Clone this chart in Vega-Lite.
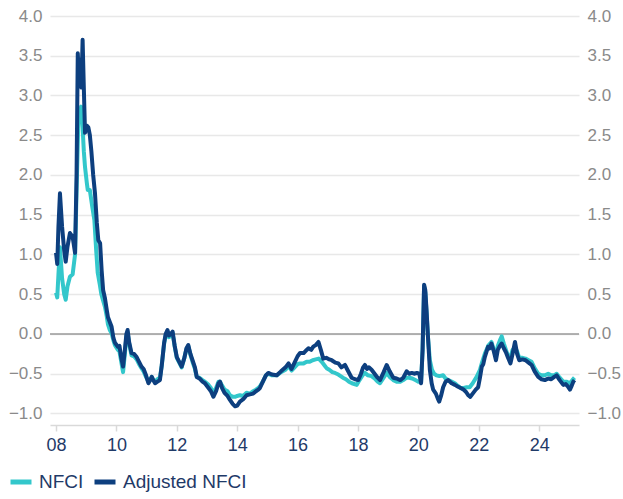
{
  "$schema": "https://vega.github.io/schema/vega-lite/v6.json",
  "autosize": "none",
  "width": 529,
  "height": 409,
  "padding": {"left": 50, "top": 16, "right": 44, "bottom": 74},
  "background": "white",
  "config": {
    "view": {"stroke": null},
    "font": "Liberation Sans"
  },
  "datasets": {
    "nfci": [
      {"t":2008.0,"v":0.52},{"t":2008.04,"v":0.46},{"t":2008.08,"v":0.75},{"t":2008.13,"v":1.09},{"t":2008.2,"v":0.7},{"t":2008.27,"v":0.5},{"t":2008.32,"v":0.43},{"t":2008.38,"v":0.6},{"t":2008.46,"v":0.72},{"t":2008.55,"v":0.75},{"t":2008.63,"v":1.0},{"t":2008.68,"v":1.8},{"t":2008.74,"v":2.69},{"t":2008.79,"v":2.75},{"t":2008.83,"v":2.86},{"t":2008.88,"v":2.6},{"t":2008.92,"v":2.3},{"t":2008.96,"v":2.1},{"t":2009.02,"v":1.9},{"t":2009.05,"v":1.81},{"t":2009.12,"v":1.81},{"t":2009.2,"v":1.6},{"t":2009.27,"v":1.43},{"t":2009.33,"v":1.05},{"t":2009.38,"v":0.77},{"t":2009.45,"v":0.62},{"t":2009.5,"v":0.5},{"t":2009.56,"v":0.42},{"t":2009.62,"v":0.34},{"t":2009.68,"v":0.22},{"t":2009.72,"v":0.12},{"t":2009.78,"v":0.05},{"t":2009.84,"v":0.01},{"t":2009.9,"v":-0.08},{"t":2009.95,"v":-0.14},{"t":2010.05,"v":-0.2},{"t":2010.1,"v":-0.22},{"t":2010.16,"v":-0.35},{"t":2010.22,"v":-0.48},{"t":2010.28,"v":-0.25},{"t":2010.33,"v":-0.03},{"t":2010.37,"v":0.02},{"t":2010.42,"v":-0.12},{"t":2010.5,"v":-0.27},{"t":2010.58,"v":-0.28},{"t":2010.67,"v":-0.32},{"t":2010.75,"v":-0.38},{"t":2010.83,"v":-0.43},{"t":2010.9,"v":-0.47},{"t":2010.98,"v":-0.54},{"t":2011.06,"v":-0.6},{"t":2011.12,"v":-0.57},{"t":2011.17,"v":-0.54},{"t":2011.22,"v":-0.58},{"t":2011.28,"v":-0.6},{"t":2011.36,"v":-0.57},{"t":2011.44,"v":-0.55},{"t":2011.5,"v":-0.4},{"t":2011.58,"v":-0.12},{"t":2011.63,"v":-0.02},{"t":2011.69,"v":0.03},{"t":2011.74,"v":-0.04},{"t":2011.8,"v":-0.02},{"t":2011.86,"v":0.01},{"t":2011.93,"v":-0.16},{"t":2012.0,"v":-0.3},{"t":2012.08,"v":-0.36},{"t":2012.16,"v":-0.42},{"t":2012.25,"v":-0.3},{"t":2012.32,"v":-0.19},{"t":2012.38,"v":-0.15},{"t":2012.45,"v":-0.26},{"t":2012.52,"v":-0.35},{"t":2012.6,"v":-0.44},{"t":2012.66,"v":-0.54},{"t":2012.75,"v":-0.55},{"t":2012.85,"v":-0.58},{"t":2012.93,"v":-0.6},{"t":2013.05,"v":-0.64},{"t":2013.13,"v":-0.68},{"t":2013.21,"v":-0.74},{"t":2013.3,"v":-0.68},{"t":2013.38,"v":-0.6},{"t":2013.43,"v":-0.6},{"t":2013.5,"v":-0.65},{"t":2013.58,"v":-0.7},{"t":2013.68,"v":-0.72},{"t":2013.76,"v":-0.77},{"t":2013.85,"v":-0.79},{"t":2013.93,"v":-0.79},{"t":2014.0,"v":-0.78},{"t":2014.09,"v":-0.77},{"t":2014.2,"v":-0.78},{"t":2014.31,"v":-0.74},{"t":2014.42,"v":-0.75},{"t":2014.53,"v":-0.72},{"t":2014.62,"v":-0.7},{"t":2014.7,"v":-0.68},{"t":2014.75,"v":-0.66},{"t":2014.85,"v":-0.6},{"t":2014.95,"v":-0.52},{"t":2015.03,"v":-0.5},{"t":2015.15,"v":-0.52},{"t":2015.31,"v":-0.52},{"t":2015.45,"v":-0.48},{"t":2015.6,"v":-0.45},{"t":2015.7,"v":-0.4},{"t":2015.8,"v":-0.46},{"t":2015.9,"v":-0.42},{"t":2016.0,"v":-0.38},{"t":2016.08,"v":-0.37},{"t":2016.2,"v":-0.37},{"t":2016.3,"v":-0.35},{"t":2016.4,"v":-0.35},{"t":2016.5,"v":-0.33},{"t":2016.6,"v":-0.32},{"t":2016.7,"v":-0.31},{"t":2016.8,"v":-0.35},{"t":2016.9,"v":-0.4},{"t":2016.96,"v":-0.43},{"t":2017.05,"v":-0.45},{"t":2017.15,"v":-0.48},{"t":2017.24,"v":-0.49},{"t":2017.35,"v":-0.51},{"t":2017.5,"v":-0.55},{"t":2017.6,"v":-0.57},{"t":2017.7,"v":-0.6},{"t":2017.8,"v":-0.62},{"t":2017.96,"v":-0.64},{"t":2018.05,"v":-0.58},{"t":2018.15,"v":-0.52},{"t":2018.23,"v":-0.49},{"t":2018.33,"v":-0.52},{"t":2018.45,"v":-0.53},{"t":2018.55,"v":-0.56},{"t":2018.65,"v":-0.6},{"t":2018.73,"v":-0.62},{"t":2018.85,"v":-0.55},{"t":2018.95,"v":-0.49},{"t":2019.05,"v":-0.54},{"t":2019.17,"v":-0.58},{"t":2019.28,"v":-0.6},{"t":2019.4,"v":-0.6},{"t":2019.5,"v":-0.58},{"t":2019.61,"v":-0.55},{"t":2019.7,"v":-0.55},{"t":2019.8,"v":-0.56},{"t":2019.9,"v":-0.58},{"t":2020.0,"v":-0.6},{"t":2020.09,"v":-0.6},{"t":2020.14,"v":-0.2},{"t":2020.19,"v":0.6},{"t":2020.23,"v":0.52},{"t":2020.27,"v":0.28},{"t":2020.32,"v":-0.05},{"t":2020.38,"v":-0.33},{"t":2020.45,"v":-0.45},{"t":2020.52,"v":-0.5},{"t":2020.6,"v":-0.52},{"t":2020.7,"v":-0.53},{"t":2020.82,"v":-0.52},{"t":2020.9,"v":-0.56},{"t":2020.99,"v":-0.58},{"t":2021.1,"v":-0.6},{"t":2021.21,"v":-0.62},{"t":2021.3,"v":-0.65},{"t":2021.4,"v":-0.68},{"t":2021.5,"v":-0.68},{"t":2021.6,"v":-0.67},{"t":2021.7,"v":-0.67},{"t":2021.8,"v":-0.62},{"t":2021.93,"v":-0.54},{"t":2022.04,"v":-0.45},{"t":2022.1,"v":-0.37},{"t":2022.2,"v":-0.25},{"t":2022.31,"v":-0.15},{"t":2022.42,"v":-0.1},{"t":2022.5,"v":-0.2},{"t":2022.57,"v":-0.28},{"t":2022.63,"v":-0.15},{"t":2022.7,"v":-0.08},{"t":2022.76,"v":-0.03},{"t":2022.83,"v":-0.12},{"t":2022.9,"v":-0.2},{"t":2022.97,"v":-0.28},{"t":2023.05,"v":-0.3},{"t":2023.12,"v":-0.2},{"t":2023.2,"v":-0.17},{"t":2023.27,"v":-0.22},{"t":2023.34,"v":-0.3},{"t":2023.45,"v":-0.3},{"t":2023.55,"v":-0.31},{"t":2023.65,"v":-0.33},{"t":2023.75,"v":-0.35},{"t":2023.85,"v":-0.43},{"t":2023.97,"v":-0.5},{"t":2024.08,"v":-0.52},{"t":2024.19,"v":-0.52},{"t":2024.3,"v":-0.5},{"t":2024.4,"v":-0.52},{"t":2024.5,"v":-0.52},{"t":2024.58,"v":-0.5},{"t":2024.68,"v":-0.55},{"t":2024.8,"v":-0.6},{"t":2024.9,"v":-0.6},{"t":2025.02,"v":-0.62},{"t":2025.1,"v":-0.58},{"t":2025.17,"v":-0.55}
    ],
    "adj": [
      {"t":2008.0,"v":1.02},{"t":2008.04,"v":0.88},{"t":2008.08,"v":1.35},{"t":2008.13,"v":1.77},{"t":2008.2,"v":1.35},{"t":2008.27,"v":1.05},{"t":2008.32,"v":0.91},{"t":2008.38,"v":1.1},{"t":2008.46,"v":1.27},{"t":2008.55,"v":1.22},{"t":2008.63,"v":1.02},{"t":2008.68,"v":2.0},{"t":2008.72,"v":3.53},{"t":2008.76,"v":3.2},{"t":2008.79,"v":3.45},{"t":2008.84,"v":3.1},{"t":2008.88,"v":3.7},{"t":2008.92,"v":3.1},{"t":2008.96,"v":2.53},{"t":2009.02,"v":2.62},{"t":2009.07,"v":2.6},{"t":2009.12,"v":2.5},{"t":2009.17,"v":2.3},{"t":2009.23,"v":2.0},{"t":2009.29,"v":1.77},{"t":2009.35,"v":1.4},{"t":2009.4,"v":1.18},{"t":2009.46,"v":1.14},{"t":2009.51,"v":0.8},{"t":2009.56,"v":0.55},{"t":2009.62,"v":0.45},{"t":2009.68,"v":0.3},{"t":2009.72,"v":0.21},{"t":2009.78,"v":0.15},{"t":2009.84,"v":0.09},{"t":2009.9,"v":-0.05},{"t":2009.95,"v":-0.11},{"t":2010.05,"v":-0.16},{"t":2010.1,"v":-0.15},{"t":2010.16,"v":-0.3},{"t":2010.22,"v":-0.41},{"t":2010.28,"v":-0.2},{"t":2010.33,"v":0.0},{"t":2010.37,"v":0.05},{"t":2010.42,"v":-0.1},{"t":2010.5,"v":-0.24},{"t":2010.58,"v":-0.25},{"t":2010.67,"v":-0.29},{"t":2010.75,"v":-0.35},{"t":2010.83,"v":-0.41},{"t":2010.9,"v":-0.44},{"t":2010.98,"v":-0.52},{"t":2011.06,"v":-0.62},{"t":2011.12,"v":-0.58},{"t":2011.17,"v":-0.54},{"t":2011.22,"v":-0.58},{"t":2011.28,"v":-0.62},{"t":2011.36,"v":-0.6},{"t":2011.44,"v":-0.58},{"t":2011.5,"v":-0.4},{"t":2011.58,"v":-0.11},{"t":2011.63,"v":0.0},{"t":2011.69,"v":0.05},{"t":2011.74,"v":-0.02},{"t":2011.8,"v":0.0},{"t":2011.86,"v":0.03},{"t":2011.93,"v":-0.15},{"t":2012.0,"v":-0.29},{"t":2012.08,"v":-0.35},{"t":2012.16,"v":-0.41},{"t":2012.25,"v":-0.3},{"t":2012.32,"v":-0.18},{"t":2012.38,"v":-0.14},{"t":2012.45,"v":-0.25},{"t":2012.52,"v":-0.33},{"t":2012.6,"v":-0.42},{"t":2012.66,"v":-0.54},{"t":2012.75,"v":-0.56},{"t":2012.85,"v":-0.6},{"t":2012.93,"v":-0.62},{"t":2013.05,"v":-0.68},{"t":2013.13,"v":-0.72},{"t":2013.21,"v":-0.79},{"t":2013.3,"v":-0.72},{"t":2013.38,"v":-0.62},{"t":2013.43,"v":-0.6},{"t":2013.5,"v":-0.68},{"t":2013.58,"v":-0.74},{"t":2013.68,"v":-0.78},{"t":2013.76,"v":-0.83},{"t":2013.85,"v":-0.88},{"t":2013.93,"v":-0.91},{"t":2014.0,"v":-0.9},{"t":2014.09,"v":-0.85},{"t":2014.2,"v":-0.82},{"t":2014.31,"v":-0.77},{"t":2014.42,"v":-0.76},{"t":2014.53,"v":-0.75},{"t":2014.62,"v":-0.72},{"t":2014.7,"v":-0.7},{"t":2014.75,"v":-0.68},{"t":2014.85,"v":-0.6},{"t":2014.95,"v":-0.52},{"t":2015.03,"v":-0.49},{"t":2015.15,"v":-0.51},{"t":2015.31,"v":-0.52},{"t":2015.45,"v":-0.47},{"t":2015.6,"v":-0.42},{"t":2015.7,"v":-0.37},{"t":2015.8,"v":-0.44},{"t":2015.9,"v":-0.36},{"t":2016.0,"v":-0.28},{"t":2016.08,"v":-0.24},{"t":2016.2,"v":-0.24},{"t":2016.3,"v":-0.2},{"t":2016.36,"v":-0.18},{"t":2016.45,"v":-0.2},{"t":2016.52,"v":-0.16},{"t":2016.6,"v":-0.14},{"t":2016.69,"v":-0.1},{"t":2016.77,"v":-0.2},{"t":2016.85,"v":-0.31},{"t":2016.95,"v":-0.3},{"t":2017.05,"v":-0.32},{"t":2017.13,"v":-0.33},{"t":2017.25,"v":-0.36},{"t":2017.35,"v":-0.37},{"t":2017.45,"v":-0.42},{"t":2017.57,"v":-0.39},{"t":2017.65,"v":-0.45},{"t":2017.72,"v":-0.5},{"t":2017.79,"v":-0.55},{"t":2017.9,"v":-0.57},{"t":2018.01,"v":-0.58},{"t":2018.1,"v":-0.5},{"t":2018.17,"v":-0.42},{"t":2018.23,"v":-0.39},{"t":2018.3,"v":-0.44},{"t":2018.36,"v":-0.42},{"t":2018.45,"v":-0.45},{"t":2018.55,"v":-0.5},{"t":2018.65,"v":-0.55},{"t":2018.73,"v":-0.58},{"t":2018.85,"v":-0.48},{"t":2018.95,"v":-0.39},{"t":2019.05,"v":-0.47},{"t":2019.17,"v":-0.55},{"t":2019.28,"v":-0.56},{"t":2019.4,"v":-0.58},{"t":2019.5,"v":-0.55},{"t":2019.61,"v":-0.47},{"t":2019.7,"v":-0.5},{"t":2019.78,"v":-0.49},{"t":2019.88,"v":-0.5},{"t":2019.95,"v":-0.49},{"t":2020.03,"v":-0.5},{"t":2020.09,"v":-0.62},{"t":2020.14,"v":-0.2},{"t":2020.19,"v":0.62},{"t":2020.23,"v":0.55},{"t":2020.27,"v":0.3},{"t":2020.32,"v":-0.05},{"t":2020.38,"v":-0.45},{"t":2020.44,"v":-0.62},{"t":2020.49,"v":-0.7},{"t":2020.58,"v":-0.75},{"t":2020.65,"v":-0.82},{"t":2020.69,"v":-0.85},{"t":2020.75,"v":-0.78},{"t":2020.82,"v":-0.67},{"t":2020.9,"v":-0.6},{"t":2020.99,"v":-0.58},{"t":2021.1,"v":-0.62},{"t":2021.21,"v":-0.64},{"t":2021.3,"v":-0.66},{"t":2021.4,"v":-0.68},{"t":2021.5,"v":-0.7},{"t":2021.58,"v":-0.73},{"t":2021.65,"v":-0.77},{"t":2021.72,"v":-0.79},{"t":2021.8,"v":-0.75},{"t":2021.9,"v":-0.7},{"t":2021.98,"v":-0.67},{"t":2022.04,"v":-0.55},{"t":2022.1,"v":-0.41},{"t":2022.15,"v":-0.38},{"t":2022.2,"v":-0.29},{"t":2022.26,"v":-0.22},{"t":2022.31,"v":-0.16},{"t":2022.36,"v":-0.18},{"t":2022.42,"v":-0.12},{"t":2022.5,"v":-0.22},{"t":2022.57,"v":-0.33},{"t":2022.63,"v":-0.2},{"t":2022.7,"v":-0.15},{"t":2022.76,"v":-0.12},{"t":2022.83,"v":-0.18},{"t":2022.9,"v":-0.23},{"t":2022.97,"v":-0.3},{"t":2023.05,"v":-0.37},{"t":2023.12,"v":-0.25},{"t":2023.2,"v":-0.1},{"t":2023.27,"v":-0.25},{"t":2023.34,"v":-0.33},{"t":2023.45,"v":-0.32},{"t":2023.55,"v":-0.33},{"t":2023.65,"v":-0.36},{"t":2023.75,"v":-0.39},{"t":2023.85,"v":-0.47},{"t":2023.97,"v":-0.54},{"t":2024.08,"v":-0.57},{"t":2024.19,"v":-0.58},{"t":2024.3,"v":-0.56},{"t":2024.4,"v":-0.57},{"t":2024.5,"v":-0.54},{"t":2024.58,"v":-0.52},{"t":2024.68,"v":-0.58},{"t":2024.8,"v":-0.64},{"t":2024.88,"v":-0.63},{"t":2024.95,"v":-0.66},{"t":2025.02,"v":-0.7},{"t":2025.08,"v":-0.65},{"t":2025.13,"v":-0.6},{"t":2025.17,"v":-0.58}
    ],
    "zero": [{"v": 0}]
  },
  "layer": [
    {
      "data": {"name": "zero"},
      "mark": {"type": "rule", "color": "#9a9a9a", "strokeWidth": 1.5},
      "encoding": {
        "y": {"field": "v", "type": "quantitative",
          "scale": {"domain": [-1.145, 4.0], "nice": false, "zero": false},
          "axis": {"orient": "right", "values": [-1, -0.5, 0, 0.5, 1, 1.5, 2, 2.5, 3, 3.5, 4], "format": ".1f", "grid": false, "domain": false, "ticks": false, "labelPadding": 8, "labelColor": "#8a8a8a", "labelFontSize": 17, "title": null}
        }
      }
    },
    {
      "data": {"name": "nfci"},
      "mark": {"type": "line", "strokeWidth": 4, "strokeJoin": "round"},
      "encoding": {
        "x": {"field": "t", "type": "quantitative",
          "scale": {"domain": [2007.8, 2025.32], "nice": false, "zero": false},
          "axis": {"values": [2008, 2010, 2012, 2014, 2016, 2018, 2020, 2022, 2024], "labelExpr": "substring(toString(datum.value), 2)", "grid": false, "domainColor": "#d9d9d9", "domainWidth": 1.5, "tickColor": "#d9d9d9", "tickSize": 6, "tickWidth": 1.5, "labelColor": "#1f3a68", "labelFontSize": 18, "labelPadding": 5, "title": null}
        },
        "y": {"field": "v", "type": "quantitative",
          "scale": {"domain": [-1.145, 4.0], "nice": false, "zero": false},
          "axis": {"orient": "left", "values": [-1, -0.5, 0, 0.5, 1, 1.5, 2, 2.5, 3, 3.5, 4], "format": ".1f", "grid": true, "gridColor": "#e8e8e8", "gridWidth": 1.5, "domain": false, "ticks": false, "labelPadding": 8, "labelColor": "#8a8a8a", "labelFontSize": 17, "title": null}
        },
        "color": {"datum": "NFCI", "type": "nominal",
          "scale": {"domain": ["NFCI", "Adjusted NFCI"], "range": ["#33c7cb", "#0d3f7f"]},
          "legend": {"orient": "none", "legendX": -42, "legendY": 453, "padding": 0, "direction": "horizontal", "title": null, "symbolType": "stroke", "symbolSize": 441, "symbolStrokeWidth": 5, "labelFontSize": 19, "labelColor": "#1f3a68", "labelOffset": 5, "columnPadding": 0}
        }
      }
    },
    {
      "data": {"name": "adj"},
      "mark": {"type": "line", "strokeWidth": 4, "strokeJoin": "round"},
      "encoding": {
        "x": {"field": "t", "type": "quantitative"},
        "y": {"field": "v", "type": "quantitative", "axis": null},
        "color": {"datum": "Adjusted NFCI", "type": "nominal"}
      }
    }
  ],
  "resolve": {"axis": {"y": "independent"}}
}
